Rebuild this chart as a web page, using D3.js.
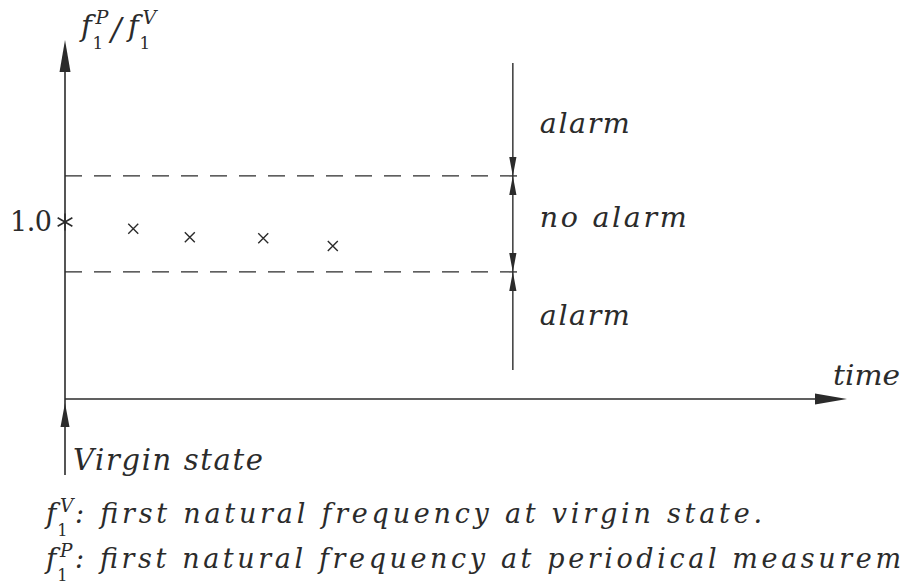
<!DOCTYPE html>
<html>
<head>
<meta charset="utf-8">
<script src="https://cdn.jsdelivr.net/npm/d3@7"></script>
<style>
  html, body { margin: 0; padding: 0; background: #ffffff; }
  svg { display: block; }
  text { fill: #2b2b2b; }
</style>
</head>
<body>
<svg id="chart" width="903" height="587"></svg>
<script>
// Periodic measurements of the first natural frequency ratio f1P / f1V
const measureTimes = [1.05, 1.92, 3.05, 4.12];
const freqRatios = [0.993, 0.984, 0.983, 0.975];
const virginTime = 0;
const virginRatio = 1.0;
const upperLimit = 1.048;
const lowerLimit = 0.948;
const checkTime = 6.89;
const zoneLabels = ["alarm", "no alarm", "alarm"];
const tickValues = [1.0];
const tickLabels = ["1.0"];

const ink = "#2b2b2b";
const serif = "'DejaVu Serif', 'Liberation Serif', serif";

const svg = d3.select("#chart");

const x = d3.scaleLinear().domain([0, 12]).range([65, 845]);
const y = d3.scaleLinear().domain([0.9, 1.1]).range([318, 126]);

const axisY = 399;      // position of the time axis
const x0 = x(virginTime);

// filled arrowhead: tip at (tx,ty), pointing along (dx,dy), given length and half width
function arrowHead(tx, ty, dx, dy, len, hw) {
  const bx = tx - dx * len, by = ty - dy * len;
  const px = -dy * hw, py = dx * hw;
  svg.append("path")
    .attr("d", `M${tx},${ty}L${bx + px},${by + py}L${bx - px},${by - py}Z`)
    .attr("fill", ink);
}

// vertical ratio axis
svg.append("line")
  .attr("x1", x0).attr("x2", x0)
  .attr("y1", 46).attr("y2", 475)
  .attr("stroke", ink).attr("stroke-width", 1.6);
arrowHead(x0, 40, 0, -1, 32, 5.5);

// time axis
svg.append("line")
  .attr("x1", x0).attr("x2", 840)
  .attr("y1", axisY).attr("y2", axisY)
  .attr("stroke", ink).attr("stroke-width", 1.4);
arrowHead(847, axisY, 1, 0, 32, 5.5);

// arrow marking the virgin state on the time axis
arrowHead(x0, axisY + 4, 0, -1, 24, 4.5);

// alarm thresholds
[upperLimit, lowerLimit].forEach(v => {
  svg.append("line")
    .attr("x1", x0).attr("x2", x(checkTime) + 9)
    .attr("y1", y(v)).attr("y2", y(v))
    .attr("stroke", ink).attr("stroke-width", 1.3)
    .attr("stroke-dasharray", "17,12");
});

// check line with zone arrows
const cx = x(checkTime);
svg.append("line")
  .attr("x1", cx).attr("x2", cx)
  .attr("y1", 63).attr("y2", 370)
  .attr("stroke", ink).attr("stroke-width", 1.4);
[upperLimit, lowerLimit].forEach(v => {
  arrowHead(cx, y(v), 0, 1, 19, 3.6);
  arrowHead(cx, y(v), 0, -1, 19, 3.6);
});

// zone labels
const zoneY = [y(upperLimit) - 43, (y(upperLimit) + y(lowerLimit)) / 2 + 3, y(lowerLimit) + 53];
const zoneW = [90, 147, 90];
zoneLabels.forEach((t, i) => {
  svg.append("text")
    .attr("x", cx + 27).attr("y", zoneY[i])
    .attr("font-family", serif).attr("font-style", "italic")
    .attr("font-size", 28.5)
    .attr("textLength", zoneW[i]).attr("lengthAdjust", "spacing")
    .text(t);
});

// tick label on the ratio axis
tickValues.forEach((v, i) => {
  svg.append("text")
    .attr("x", x0 - 13).attr("y", y(v) + 9)
    .attr("text-anchor", "end")
    .attr("font-family", serif).attr("font-size", 27)
    .attr("textLength", 42).attr("lengthAdjust", "spacing")
    .text(tickLabels[i]);
});

// virgin state reference (asterisk)
const ax = x(virginTime), ay = y(virginRatio);
[0, 60, 120].forEach(a => {
  const r = 8.5, rad = a * Math.PI / 180;
  svg.append("line")
    .attr("x1", ax - r * Math.sin(rad)).attr("y1", ay - r * Math.cos(rad))
    .attr("x2", ax + r * Math.sin(rad)).attr("y2", ay + r * Math.cos(rad))
    .attr("stroke", ink).attr("stroke-width", 1.6);
});

// periodic measurements (crosses)
const pts = measureTimes.map((t, i) => [x(t), y(freqRatios[i])]);
svg.append("g").selectAll("path").data(pts).join("path")
  .attr("d", d => `M${d[0] - 5},${d[1] - 5}L${d[0] + 5},${d[1] + 5}M${d[0] - 5},${d[1] + 5}L${d[0] + 5},${d[1] - 5}`)
  .attr("stroke", ink).attr("stroke-width", 1.4).attr("fill", "none");

// axis titles
svg.append("text")
  .attr("x", 833).attr("y", 385)
  .attr("font-family", serif).attr("font-style", "italic").attr("font-size", 28)
  .attr("textLength", 67).attr("lengthAdjust", "spacingAndGlyphs")
  .text("time");

svg.append("text")
  .attr("x", 73).attr("y", 470)
  .attr("font-family", serif).attr("font-style", "italic").attr("font-size", 29)
  .attr("textLength", 190).attr("lengthAdjust", "spacing")
  .text("Virgin state");

// f with subscript 1 and a superscript letter
function freqSymbol(px, py, sup, size) {
  const g = svg.append("g");
  g.append("text").attr("x", px).attr("y", py)
    .attr("font-family", serif).attr("font-style", "italic").attr("font-size", size)
    .text("f");
  g.append("text").attr("x", px + size * 0.4).attr("y", py + size * 0.45)
    .attr("font-family", serif).attr("font-size", size * 0.58)
    .text("1");
  g.append("text").attr("x", px + size * 0.5).attr("y", py - size * 0.4)
    .attr("font-family", serif).attr("font-style", "italic").attr("font-size", size * 0.66)
    .text(sup);
}

// ratio axis title f1P / f1V
freqSymbol(81, 36, "P", 29);
svg.append("text").attr("x", 111).attr("y", 40)
  .attr("font-family", serif).attr("font-style", "italic").attr("font-size", 31)
  .text("/");
freqSymbol(128, 36, "V", 29);

// definitions (the second line runs off the right edge of the page)
const defs = [
  { sup: "V", text: ": first natural frequency at virgin state.", len: 687, y: 523 },
  { sup: "P", text: ": first natural frequency at periodical measurem", len: 826, y: 568 }
];
defs.forEach(d => {
  freqSymbol(46, d.y, d.sup, 28);
  svg.append("text").attr("x", 75).attr("y", d.y)
    .attr("font-family", serif).attr("font-style", "italic").attr("font-size", 27)
    .attr("textLength", d.len).attr("lengthAdjust", "spacing")
    .text(d.text);
});
</script>
</body>
</html>
